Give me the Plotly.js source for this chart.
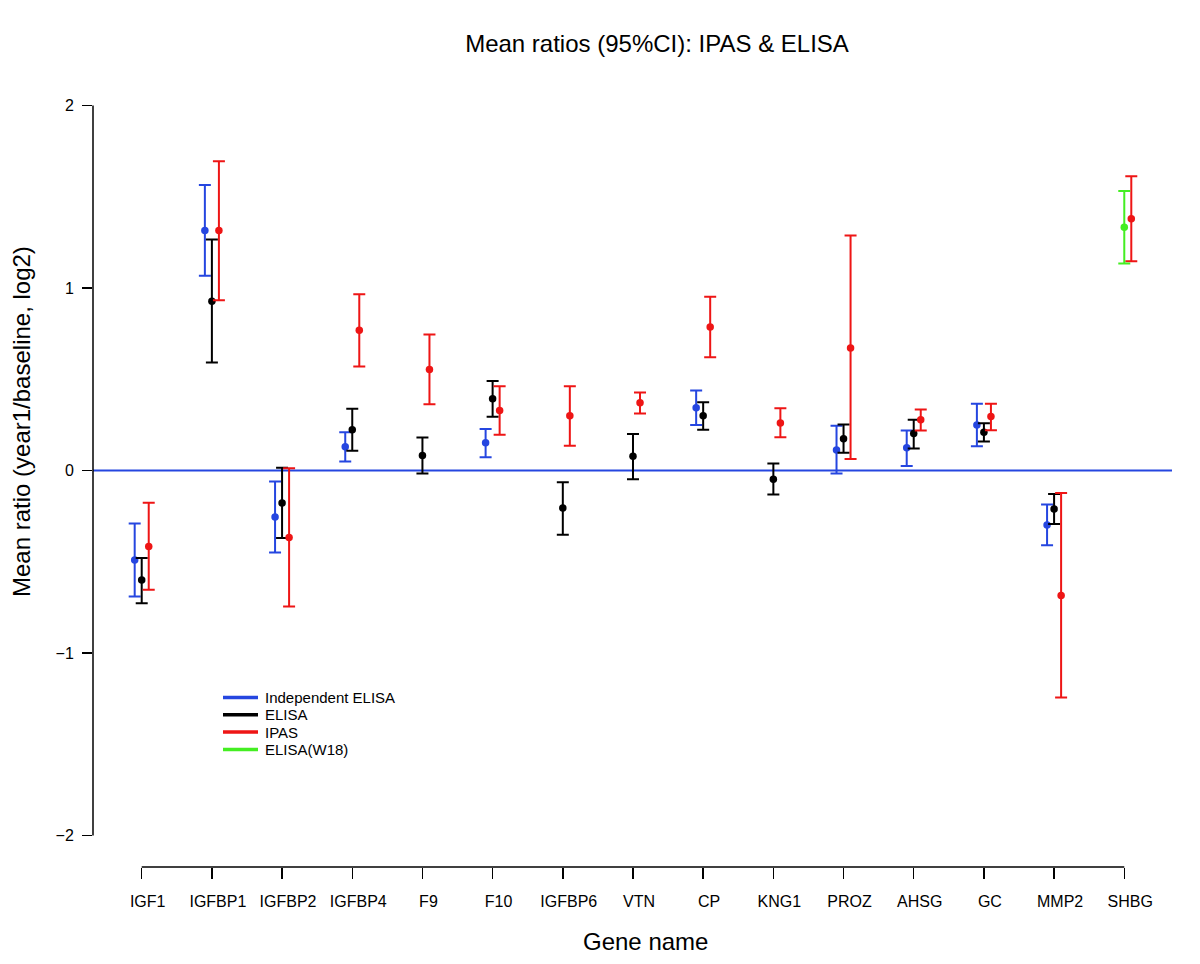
<!DOCTYPE html>
<html>
<head>
<meta charset="utf-8">
<script src="https://cdn.plot.ly/plotly-3.0.1.min.js"></script>
<style>html,body{margin:0;padding:0;background:#fff;}#chart{width:1200px;height:964px;}</style>
</head>
<body>
<div id="chart"></div>
<script>
// ---- data ----
var genes = ['IGF1','IGFBP1','IGFBP2','IGFBP4','F9','F10','IGFBP6','VTN','CP','KNG1','PROZ','AHSG','GC','MMP2','SHBG'];
var yTicks = [-2, -1, 0, 1, 2];
var yTickText = ['\u22122', '\u22121', '0', '1', '2'];

var seriesNames = ['Independent ELISA', 'ELISA', 'IPAS', 'ELISA(W18)'];

// Independent ELISA
var indMean  = [-0.490, 1.315, -0.255, 0.130, null, 0.152, null, null, 0.344, null, 0.112, 0.124, 0.250, -0.298, null];
var indLow   = [-0.690, 1.067, -0.450, 0.050, null, 0.073, null, null, 0.250, null, -0.016, 0.024, 0.133, -0.409, null];
var indHigh  = [-0.290, 1.565, -0.060, 0.210, null, 0.228, null, null, 0.438, null, 0.245, 0.219, 0.366, -0.186, null];
// ELISA
var elMean   = [-0.600, 0.928, -0.178, 0.223, 0.082, 0.393, -0.206, 0.078, 0.300, -0.048, 0.174, 0.203, 0.210, -0.211, null];
var elLow    = [-0.727, 0.592, -0.370, 0.108, -0.016, 0.295, -0.352, -0.048, 0.223, -0.132, 0.097, 0.121, 0.159, -0.293, null];
var elHigh   = [-0.480, 1.266, 0.015, 0.338, 0.181, 0.490, -0.064, 0.200, 0.374, 0.038, 0.252, 0.278, 0.259, -0.129, null];
// IPAS
var ipMean   = [-0.416, 1.315, -0.367, 0.769, 0.553, 0.329, 0.300, 0.371, 0.786, 0.261, 0.672, 0.278, 0.296, -0.685, 1.380];
var ipLow    = [-0.653, 0.933, -0.745, 0.570, 0.363, 0.196, 0.136, 0.312, 0.621, 0.182, 0.063, 0.219, 0.221, -1.244, 1.147];
var ipHigh   = [-0.177, 1.695, 0.013, 0.966, 0.745, 0.462, 0.462, 0.427, 0.952, 0.341, 1.288, 0.334, 0.366, -0.123, 1.613];
// ELISA(W18)
var w18Mean  = [null, null, null, null, null, null, null, null, null, null, null, null, null, null, 1.333];
var w18Low   = [null, null, null, null, null, null, null, null, null, null, null, null, null, null, 1.134];
var w18High  = [null, null, null, null, null, null, null, null, null, null, null, null, null, null, 1.532];

// ---- styling ----
var colors = ['#2546e0', '#000000', '#ee1515', '#44ee22'];
var offsets = [-0.1, 0, 0.1, 0];
var FONT = 'Liberation Sans, Arial, Helvetica, sans-serif';

function makeTrace(k, mean, low, high) {
  var x = [], y = [], up = [], dn = [];
  for (var i = 0; i < genes.length; i++) {
    if (mean[i] === null) continue;
    x.push(i + offsets[k]);
    y.push(mean[i]);
    up.push(high[i] - mean[i]);
    dn.push(mean[i] - low[i]);
  }
  return {
    type: 'scatter', mode: 'markers', name: seriesNames[k],
    x: x, y: y, showlegend: false,
    marker: {color: colors[k], size: 7.5},
    error_y: {type: 'data', symmetric: false, array: up, arrayminus: dn,
              color: colors[k], thickness: 2, width: 6},
    cliponaxis: false
  };
}

var traces = [
  makeTrace(0, indMean, indLow, indHigh),
  makeTrace(1, elMean, elLow, elHigh),
  makeTrace(2, ipMean, ipLow, ipHigh),
  makeTrace(3, w18Mean, w18Low, w18High)
];

// plot area geometry (px) used to place paper-referenced decorations
var L = 93, T = 74, W = 1079, H = 793;
function px2x(px) { return (px - L) / W; }
function px2y(py) { return 1 - (py - T) / H; }

// custom R-like legend
var legShapes = [], legAnn = [];
var legY0 = 697.5, legDY = 17.3;
for (var k = 0; k < seriesNames.length; k++) {
  var py = px2y(legY0 + k * legDY);
  legShapes.push({type: 'line', xref: 'paper', yref: 'paper', x0: px2x(223), x1: px2x(258), y0: py, y1: py,
                  line: {color: colors[k], width: 3.5}});
  legAnn.push({xref: 'paper', yref: 'paper', x: px2x(264), y: py, xanchor: 'left', yanchor: 'middle',
               text: seriesNames[k], showarrow: false, borderpad: 0,
               font: {family: FONT, size: 15, color: '#000'}});
}

// axis titles
var titleAnn = [
  {xref: 'paper', yref: 'paper', x: px2x(22), y: px2y(422), xanchor: 'center', yanchor: 'middle',
   text: 'Mean ratio (year1/baseline, log2)', textangle: -90, showarrow: false,
   font: {family: FONT, size: 24, color: '#000'}},
  {xref: 'paper', yref: 'paper', x: px2x(645), y: px2y(941), xanchor: 'center', yanchor: 'middle',
   text: 'Gene name', showarrow: false, font: {family: FONT, size: 24, color: '#000'}}
];

// R-style axis lines spanning only first..last tick
var axisShapes = [
  {type: 'line', xref: 'paper', yref: 'y', x0: 0, x1: 0, y0: yTicks[0], y1: yTicks[yTicks.length - 1],
   line: {color: '#000', width: 1.5}},
  {type: 'line', xref: 'x', yref: 'paper', x0: 0, x1: genes.length - 1, y0: 0, y1: 0,
   line: {color: '#000', width: 1.5}},
  {type: 'line', xref: 'paper', yref: 'y', x0: 0, x1: 1, y0: 0, y1: 0, layer: 'below',
   line: {color: colors[0], width: 2}}
];

var layout = {
  width: 1200, height: 964,
  paper_bgcolor: '#fff', plot_bgcolor: '#fff',
  margin: {l: L, r: 1200 - L - W, t: T, b: 964 - T - H},
  showlegend: false,
  font: {family: FONT, color: '#000'},
  title: {text: 'Mean ratios (95%CI): IPAS & ELISA', font: {family: FONT, size: 24, color: '#000'},
          x: 657 / 1200, xanchor: 'center', xref: 'container', y: 1 - 44 / 964, yanchor: 'middle', yref: 'container'},
  xaxis: {
    range: [-0.694, 14.68], tickmode: 'array',
    tickvals: genes.map(function (g, i) { return i; }), ticktext: genes,
    ticks: 'outside', ticklen: 11, tickwidth: 1.5, tickcolor: '#000',
    showline: false, showgrid: false, zeroline: false,
    tickfont: {family: FONT, size: 16, color: '#000'},
    ticklabelshift: 6, ticklabelstandoff: 9
  },
  yaxis: {
    range: [-2.173, 2.173], tickmode: 'array', tickvals: yTicks, ticktext: yTickText,
    ticks: 'outside', ticklen: 10, tickwidth: 1.5, tickcolor: '#000',
    showline: false, showgrid: false, zeroline: false,
    tickfont: {family: FONT, size: 16, color: '#000'},
    ticklabelstandoff: 5
  },
  shapes: axisShapes.concat(legShapes),
  annotations: legAnn.concat(titleAnn)
};

Plotly.newPlot('chart', traces, layout, {displayModeBar: false, staticPlot: true});
</script>
</body>
</html>
